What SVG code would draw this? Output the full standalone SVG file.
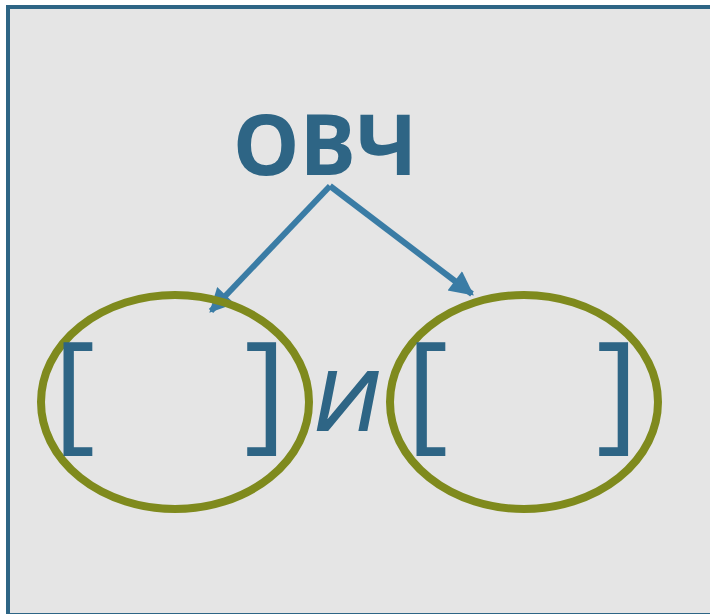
<svg xmlns="http://www.w3.org/2000/svg" width="710" height="614" viewBox="0 0 710 614">
<defs>
<style>
.t{fill:#2e6585;font-family:"Open Sans","Liberation Sans",sans-serif}
.ell{fill:none;stroke:#7f8a1d;stroke-width:8}
.arr{fill:none;stroke:#3a7ca5;stroke-width:6;stroke-linejoin:miter}
</style>
<marker id="ah" viewBox="0 0 10 10" refX="9" refY="5" markerWidth="4.4" markerHeight="4" markerUnits="strokeWidth" orient="auto">
<path d="M0,0 L10,5 L0,10 Z" fill="#3a7ca5"/>
</marker>
</defs>
<rect x="0" y="0" width="710" height="614" fill="#ffffff"/>
<rect x="8" y="7" width="720" height="608" fill="#e5e5e5" stroke="#2e6585" stroke-width="4"/>
<g id="title"><text class="t" x="325" y="175" font-size="84" font-weight="bold" text-anchor="middle">ОВЧ</text></g>
<g id="connectors">
<path class="arr" d="M330,186 L211,311" marker-end="url(#ah)"/>
<path class="arr" d="M330,186 L472,294" marker-end="url(#ah)"/>
</g>
<g id="left">
<ellipse class="ell" cx="175" cy="402" rx="134" ry="107"/>
<text class="t" x="53" y="435" font-size="130">[</text>
<text class="t" x="244" y="435" font-size="130">]</text>
</g>
<g id="and"><text class="t" x="0" y="0" font-size="84" font-weight="600" text-anchor="middle" transform="translate(342,431) skewX(-11)">И</text></g>
<g id="right">
<ellipse class="ell" cx="524" cy="402" rx="134" ry="107"/>
<text class="t" x="406" y="435" font-size="130">[</text>
<text class="t" x="596" y="435" font-size="130">]</text>
</g>
</svg>
